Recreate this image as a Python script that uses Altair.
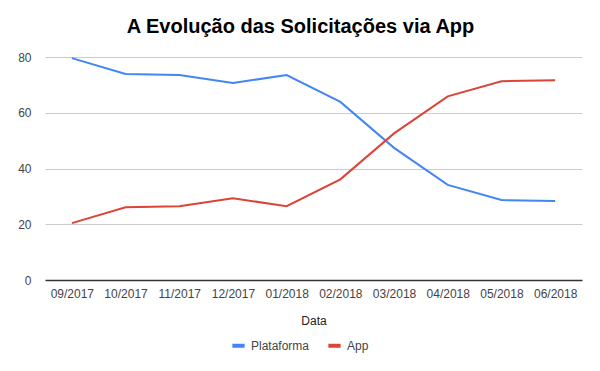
import altair as alt
import pandas as pd

months = ["09/2017", "10/2017", "11/2017", "12/2017", "01/2018",
          "02/2018", "03/2018", "04/2018", "05/2018", "06/2018"]
plataforma = [79.6, 73.9, 73.5, 70.7, 73.5, 63.9, 47.4, 34.1, 28.7, 28.3]
app = [20.4, 26.1, 26.5, 29.3, 26.5, 36.1, 52.6, 65.9, 71.3, 71.7]
series = ["Plataforma", "App"]
colors = ["#4285F4", "#DB4437"]

rows = []
for m, p, a in zip(months, plataforma, app):
    rows.append({"Data": m, "Serie": "Plataforma", "Valor": p})
    rows.append({"Data": m, "Serie": "App", "Valor": a})
df = pd.DataFrame(rows)

FONT = "Liberation Sans"

chart = alt.Chart(df).mark_line(strokeWidth=2).encode(
    x=alt.X("Data:N", sort=months, scale=alt.Scale(paddingOuter=0.5),
            axis=alt.Axis(title="Data", labelAngle=0, ticks=False,
                          domainColor="#333", domainWidth=1.5, grid=False,
                          labelColor="#444", labelFontSize=12, labelFont=FONT,
                          labelPadding=8, titleFont=FONT, titleFontSize=12,
                          titleFontWeight="normal", titleColor="#222",
                          titlePadding=16)),
    y=alt.Y("Valor:Q", scale=alt.Scale(domain=[0, 80], nice=False),
            axis=alt.Axis(title=None, values=[0, 20, 40, 60, 80], domain=False,
                          ticks=False, gridColor="#ccc", labelColor="#444",
                          labelFontSize=12, labelFont=FONT, labelPadding=14)),
    color=alt.Color("Serie:N", sort=series,
                    scale=alt.Scale(domain=series, range=colors),
                    legend=alt.Legend(title=None, orient="none", legendX=185,
                                      legendY=280, direction="horizontal",
                                      symbolType="stroke", symbolStrokeWidth=4,
                                      symbolSize=150, labelFont=FONT,
                                      labelFontSize=12, labelColor="#444",
                                      columnPadding=10, symbolOffset=0)),
).properties(
    width=537, height=223,
    padding={"left": 37, "top": 49, "right": 10, "bottom": 80},
    autosize=alt.AutoSizeParams(type="none"),
    title=alt.TitleParams("A Evolução das Solicitações via App", font=FONT,
                          fontSize=20, fontWeight="bold", color="#000",
                          anchor="middle", dx=-13, offset=14),
).configure_view(stroke=None)

chart.save("out.html", embed_options={"renderer": "svg", "actions": False})
